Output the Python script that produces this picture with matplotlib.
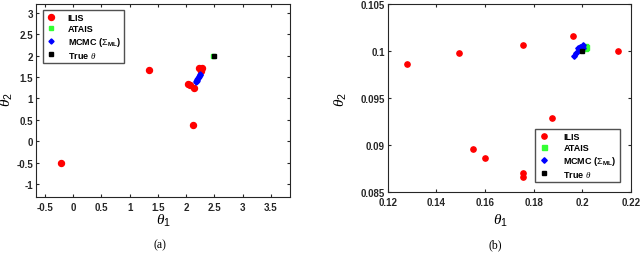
import matplotlib
matplotlib.use("Agg")
import matplotlib.pyplot as plt
from matplotlib.ticker import FuncFormatter

plt.rcParams['font.family'] = ['Liberation Sans', 'DejaVu Sans']
plt.rcParams['font.weight'] = 'bold'
plt.rcParams['mathtext.fontset'] = 'custom'
plt.rcParams['mathtext.rm'] = 'Liberation Sans:weight=normal'
plt.rcParams['mathtext.it'] = 'Liberation Serif:italic:weight=normal'
plt.rcParams['mathtext.bf'] = 'Liberation Sans:bold'

# ---- panel (a) data ----
a_ilis_x = [-0.21, 1.35, 2.13, 2.03, 2.07, 2.14, 2.23, 2.28, 2.27]
a_ilis_y = [-0.50, 1.67, 0.37, 1.33, 1.31, 1.24, 1.71, 1.71, 1.655]
a_atais_x = [2.47]
a_atais_y = [2.00]
a_mcmc_x = [2.17, 2.18, 2.19, 2.195, 2.20, 2.21, 2.215, 2.22, 2.23, 2.24, 2.245, 2.25]
a_mcmc_y = [1.38, 1.40, 1.42, 1.44, 1.45, 1.47, 1.49, 1.50, 1.52, 1.54, 1.56, 1.58]
a_true_x = [2.50]
a_true_y = [2.00]
a_xticks = [-0.5, 0, 0.5, 1, 1.5, 2, 2.5, 3, 3.5]
a_yticks = [-1, -0.5, 0, 0.5, 1, 1.5, 2, 2.5, 3]

# ---- panel (b) data ----
b_ilis_x = [0.1281, 0.1492, 0.1758, 0.1963, 0.2147, 0.1875, 0.1552, 0.1600, 0.1757, 0.1758]
b_ilis_y = [0.0986, 0.0998, 0.1006, 0.10156, 0.1000, 0.0929, 0.0895, 0.0886, 0.0870, 0.0866]
b_atais_x = [0.2011, 0.2013, 0.2010]
b_atais_y = [0.10056, 0.10040, 0.10030]
b_mcmc_x = [0.1966, 0.1973, 0.1983, 0.1990, 0.2004, 0.1985, 0.2002]
b_mcmc_y = [0.09950, 0.09979, 0.10030, 0.10039, 0.10060, 0.10005, 0.10035]
b_true_x = [0.2000]
b_true_y = [0.1000]
b_xticks = [0.12, 0.14, 0.16, 0.18, 0.2, 0.22]
b_yticks = [0.085, 0.09, 0.095, 0.1, 0.105]

fig = plt.figure(figsize=(6.4, 2.55), dpi=100)
W, H = 640.0, 255.0

def ax_at(l, t, r, b):
    return fig.add_axes([l / W, 1 - b / H, (r - l) / W, (b - t) / H])

axa = ax_at(36, 4.7, 290, 197.7)
axb = ax_at(387.7, 5, 631, 192.7)

fmt = FuncFormatter(lambda v, p: ('%g' % v))

def style(ax):
    ax.tick_params(direction='in', top=True, right=True, length=2.5, width=0.8,
                   labelsize=7, colors='#262626')
    ax.tick_params(axis='x', pad=3.5)
    ax.tick_params(axis='y', pad=2)
    for s in ax.spines.values():
        s.set_linewidth(0.8)
        s.set_color('#262626')
    ax.xaxis.set_major_formatter(fmt)
    ax.yaxis.set_major_formatter(fmt)

# panel (a)
axa.plot(a_ilis_x, a_ilis_y, 'o', color='red', ms=4.3, mec='red', label='ILIS', zorder=3)
axa.plot(a_atais_x, a_atais_y, 's', color='#33ff33', ms=3.0, mec='#33ff33', label='ATAIS', zorder=4)
axa.plot(a_mcmc_x, a_mcmc_y, 'D', color='blue', ms=2.6, mec='blue', label=r'MCMC ($\Sigma_{\mathbf{ML}}$)', zorder=4)
axa.plot(a_true_x, a_true_y, 's', color='black', ms=2.4, mec='black', label=r'True $\theta$', zorder=5)
axa.set_xlim(-0.66, 3.84)
axa.set_ylim(-1.30, 3.22)
axa.set_xticks(a_xticks)
axa.set_yticks(a_yticks)
style(axa)

# panel (b)
axb.plot(b_ilis_x, b_ilis_y, 'o', color='red', ms=3.8, mec='red', label='ILIS', zorder=3)
axb.plot(b_atais_x, b_atais_y, 's', color='#33ff33', ms=3.6, mec='#33ff33', label='ATAIS', zorder=3)
axb.plot(b_mcmc_x, b_mcmc_y, 'D', color='blue', ms=2.8, mec='blue', label=r'MCMC ($\Sigma_{\mathbf{ML}}$)', zorder=4)
axb.plot(b_true_x, b_true_y, 's', color='black', ms=2.4, mec='black', label=r'True $\theta$', zorder=5)
axb.set_xlim(0.12, 0.22)
axb.set_ylim(0.085, 0.105)
axb.set_xticks(b_xticks)
axb.set_yticks(b_yticks)
style(axb)

# legends
def legend(ax, l, t, handletextpad):
    leg = ax.legend(loc='upper left', fontsize=6.5, frameon=True,
                    fancybox=False, edgecolor='#262626', handlelength=1.2,
                    handletextpad=handletextpad, borderpad=0.35, labelspacing=0.2,
                    borderaxespad=0, markerscale=1.0)
    leg.get_frame().set_linewidth(1.0)
    bb = ax.get_position()
    x0 = (l / W - bb.x0) / bb.width
    y1 = ((1 - t / H) - bb.y0) / bb.height
    leg.set_bbox_to_anchor((x0, y1), transform=ax.transAxes)
    return leg

legend(axa, 42.7, 11, 1.2)
legend(axb, 535, 130, 1.6)

# axis labels
fig.text(163 / W, 1 - 221 / H, r'$\theta_1$', ha='center', va='center', fontsize=11, fontweight='normal')
fig.text(7 / W, 1 - 100 / H, r'$\theta_2$', ha='center', va='center', fontsize=11, rotation=90, fontweight='normal')
fig.text(500 / W, 1 - 221 / H, r'$\theta_1$', ha='center', va='center', fontsize=11, fontweight='normal')
fig.text(341 / W, 1 - 100 / H, r'$\theta_2$', ha='center', va='center', fontsize=11, rotation=90, fontweight='normal')

# captions
fig.text(160 / W, 1 - 245 / H, '(a)', ha='center', va='center', fontsize=8.5,
         family='Liberation Serif', fontweight='normal')
fig.text(495 / W, 1 - 245 / H, '(b)', ha='center', va='center', fontsize=8.5,
         family='Liberation Serif', fontweight='normal')

fig.savefig('out.png', dpi=100)
